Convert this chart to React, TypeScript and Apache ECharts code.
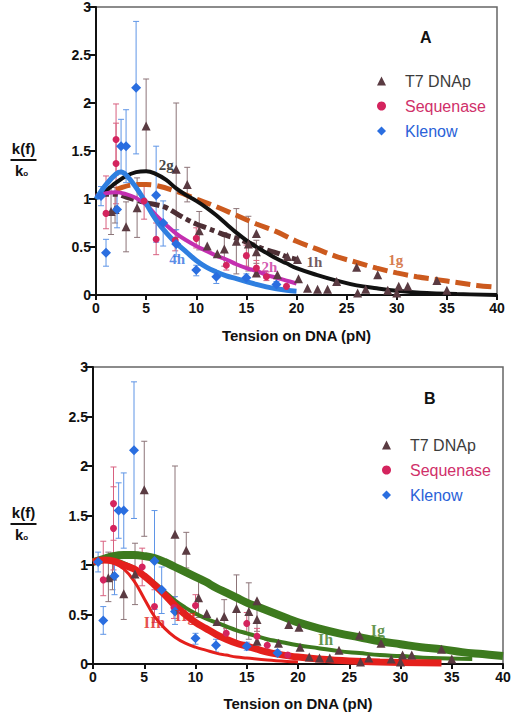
import React, { useEffect, useRef } from "react";
import * as echarts from "echarts";

// ---------- data ----------
type Pt = [number, number, number | null, number | null];

const T7_POINTS: Pt[] = [
  [1.5, 0.87, 0.63, 1.13], [1.9, 0.89, 0.75, 1.12], [3.0, 0.71, 0.45, 0.97], [4.1, 0.91, 0.6, 1.22],
  [5.0, 1.76, 1.29, 2.25], [8.0, 1.31, 0.6, 2.0], [9.1, 1.15, 0.97, 1.33], [10.3, 0.67, 0.47, 0.87],
  [11.1, 0.51, null, null], [12.1, 0.43, null, null], [12.8, 0.48, 0.3, 0.65], [14.0, 0.56, 0.22, 0.9],
  [15.2, 0.53, 0.25, 0.82], [16.0, 0.64, null, null], [16.0, 0.45, 0.33, 0.57], [16.0, 0.23, null, null],
  [18.1, 0.21, null, null], [19.1, 0.4, null, null], [20.1, 0.37, null, null], [20.2, 0.17, null, null],
  [21.1, 0.07, null, null], [22.1, 0.06, null, null], [23.1, 0.06, null, null], [24.0, 0.14, null, null],
  [26.0, 0.29, null, null], [26.1, 0.02, null, null], [26.9, 0.06, null, null], [28.1, 0.21, null, null],
  [29.1, 0.05, null, null], [30.0, 0.02, null, null], [30.2, 0.09, null, null], [31.1, 0.09, null, null],
  [34.0, 0.15, null, null], [35.0, 0.05, null, null],
];

const SEQUENASE_POINTS: Pt[] = [
  [1.0, 0.85, 0.69, 1.24], [2.0, 1.62, 1.25, 1.99], [2.0, 1.37, 0.95, 1.79], [4.8, 0.98, 0.79, 1.17],
  [6.0, 0.58, 0.42, 0.75], [7.9, 0.57, 0.46, 0.68], [10.0, 0.59, 0.49, 0.7], [13.0, 0.31, 0.26, 0.36],
  [15.0, 0.41, 0.3, 0.52], [16.0, 0.28, 0.2, 0.36], [17.0, 0.19, 0.15, 0.24], [19.0, 0.09, null, null],
];

const KLENOW_POINTS: Pt[] = [
  [0.5, 1.03, 0.93, 1.13], [1.0, 0.44, 0.3, 0.58], [2.1, 0.89, 0.7, 1.08], [2.5, 1.55, 1.27, 1.83],
  [3.0, 1.55, 1.17, 1.93], [4.0, 2.16, 1.47, 2.85], [6.0, 1.04, 0.55, 1.55], [6.7, 0.75, 0.51, 0.98],
  [8.0, 0.53, 0.4, 0.68], [10.0, 0.26, 0.2, 0.31], [12.0, 0.19, 0.12, 0.25], [15.0, 0.18, 0.14, 0.22],
  [18.0, 0.11, 0.08, 0.14],
];

// Panel A model curves
const CURVE_1G: [number, number][] = [
  [0, 1.03], [2, 1.1], [4, 1.15], [5, 1.15], [6, 1.14], [8, 1.08], [10, 1.0], [12, 0.92], [14, 0.83],
  [16, 0.74], [18, 0.66], [20, 0.56], [22, 0.48], [24, 0.4], [26, 0.34], [28, 0.28], [30, 0.23],
  [32, 0.19], [34, 0.16], [36, 0.13], [38, 0.1], [40, 0.08],
];
const CURVE_1H: [number, number][] = [
  [0, 1.03], [1, 1.05], [2, 1.05], [3, 1.02], [4, 0.99], [5, 0.96], [6, 0.94], [7, 0.91], [8, 0.85],
  [9, 0.79], [10, 0.74], [11, 0.7], [12, 0.66], [13, 0.62], [14, 0.59], [15, 0.55], [16, 0.51],
  [17, 0.47], [18, 0.44], [19, 0.4], [20, 0.37],
];
const CURVE_2G: [number, number][] = [
  [0, 1.03], [1, 1.09], [2, 1.17], [3, 1.24], [4, 1.28], [5, 1.29], [6, 1.26], [7, 1.2], [8, 1.11],
  [9, 1.04], [10, 0.98], [11, 0.91], [12, 0.83], [13, 0.74], [14, 0.65], [15, 0.57], [16, 0.5],
  [17, 0.44], [18, 0.38], [19, 0.33], [20, 0.28], [22, 0.21], [24, 0.15], [26, 0.1], [28, 0.07],
  [30, 0.045], [33, 0.02], [36, 0.01], [40, 0.0],
];
const CURVE_2H: [number, number][] = [
  [0, 1.03], [1, 1.06], [2, 1.07], [3, 1.05], [4, 1.01], [5, 0.94], [6, 0.83], [7, 0.73], [8, 0.64],
  [9, 0.57], [10, 0.51], [11, 0.46], [12, 0.41], [13, 0.37], [14, 0.32], [15, 0.28], [16, 0.25],
  [17, 0.21], [18, 0.18], [19, 0.15], [20, 0.12],
];
const CURVE_4H: [number, number][] = [
  [0, 1.0], [1, 1.15], [2, 1.26], [2.5, 1.28], [3, 1.25], [4, 1.12], [4.8, 0.99], [6, 0.78], [7, 0.65],
  [8, 0.54], [9, 0.45], [10, 0.36], [11, 0.29], [12, 0.24], [13, 0.2], [14, 0.17], [15, 0.14],
  [16, 0.11], [17, 0.085], [18, 0.065], [19, 0.05], [20, 0.04],
];

// Panel B model curves
const CURVE_IG: [number, number][] = [
  [0, 1.03], [1, 1.06], [2, 1.09], [3, 1.1], [4, 1.1], [5, 1.09], [6, 1.07], [7, 1.03], [8, 0.98],
  [9, 0.93], [10, 0.88], [11, 0.83], [12, 0.77], [13, 0.72], [14, 0.67], [15, 0.62], [16, 0.58],
  [17, 0.54], [18, 0.5], [19, 0.46], [20, 0.42], [22, 0.36], [24, 0.31], [26, 0.27], [28, 0.23],
  [30, 0.2], [32, 0.17], [34, 0.15], [36, 0.12], [38, 0.1], [40, 0.08],
];
const CURVE_IH: [number, number][] = [
  [0, 1.03], [1, 1.05], [2, 1.05], [3, 1.02], [4, 0.97], [5, 0.9], [6, 0.82], [7, 0.73], [8, 0.64],
  [9, 0.57], [10, 0.51], [11, 0.46], [12, 0.42], [13, 0.38], [14, 0.34], [15, 0.31], [16, 0.28],
  [17, 0.25], [18, 0.23], [20, 0.19], [22, 0.16], [24, 0.13], [26, 0.11], [28, 0.09], [30, 0.08],
  [33, 0.06], [37, 0.05],
];
const CURVE_IIG: [number, number][] = [
  [0, 1.03], [1, 1.05], [2, 1.04], [3, 1.0], [4, 0.96], [5, 0.89], [6, 0.8], [7, 0.7], [8, 0.59],
  [9, 0.5], [10, 0.42], [11, 0.36], [12, 0.3], [13, 0.25], [14, 0.21], [15, 0.18], [16, 0.15],
  [17, 0.12], [18, 0.1], [20, 0.07], [22, 0.05], [25, 0.03], [28, 0.02], [34, 0.01],
];
const CURVE_IIH: [number, number][] = [
  [0, 1.03], [1, 1.04], [2, 1.02], [3, 0.96], [4, 0.84], [5, 0.66], [6, 0.48], [7, 0.36], [8, 0.27],
  [9, 0.21], [10, 0.17], [11, 0.14], [12, 0.11], [13, 0.09], [14, 0.07], [15, 0.06], [17, 0.04],
  [20, 0.02],
];

// curve label anchors (data coordinates)
const LABELS_A: { text: string; at: [number, number]; color: string }[] = [
  { text: "2g", at: [7.0, 1.35], color: "#111111" },
  { text: "4h", at: [8.1, 0.38], color: "#2f6fe0" },
  { text: "2h", at: [17.3, 0.29], color: "#c8309e" },
  { text: "1h", at: [21.8, 0.34], color: "#4d2f35" },
  { text: "1g", at: [29.9, 0.36], color: "#cc5a1e" },
];
const LABELS_B: { text: string; at: [number, number]; color: string }[] = [
  { text: "IIh", at: [6.0, 0.42], color: "#e02020" },
  { text: "IIg", at: [9.0, 0.49], color: "#e02020" },
  { text: "Ih", at: [22.7, 0.25], color: "#3d7a1e" },
  { text: "Ig", at: [27.8, 0.34], color: "#3d7a1e" },
];

const X_MIN = 0, X_MAX = 40, X_STEP = 5;
const Y_MIN = 0, Y_MAX = 3, Y_STEP = 0.5;
const X_TITLE = "Tension on DNA (pN)";
const LEGEND_NAMES = ["T7 DNAp", "Sequenase", "Klenow"];

// ---------- styling ----------
const C_T7 = "#5a3b42";
const C_SEQ = "#d4245e";
const C_KLE = "#2a6ee0";
const C_T7_ERR = "#8c7478";
const C_SEQ_ERR = "#d8607f";
const C_KLE_ERR = "#5f95e6";

const SANS = "'Liberation Sans', Arial, Helvetica, sans-serif";
const SERIF = "'Liberation Serif', 'Times New Roman', serif";

function errorSeries(points: Pt[], color: string, idx: number) {
  return {
    type: "custom",
    xAxisIndex: idx,
    yAxisIndex: idx,
    silent: true,
    z: 2,
    data: points.filter((p) => p[2] !== null).map((p) => [p[0], p[2], p[3]]),
    encode: { x: 0, y: [1, 2] },
    renderItem: (_params: any, api: any) => {
      const x = api.value(0);
      const lo = api.coord([x, api.value(1)]);
      const hi = api.coord([x, api.value(2)]);
      const w = 3;
      const style = { stroke: color, lineWidth: 1 };
      return {
        type: "group",
        children: [
          { type: "line", shape: { x1: lo[0], y1: lo[1], x2: hi[0], y2: hi[1] }, style },
          { type: "line", shape: { x1: lo[0] - w, y1: lo[1], x2: lo[0] + w, y2: lo[1] }, style },
          { type: "line", shape: { x1: hi[0] - w, y1: hi[1], x2: hi[0] + w, y2: hi[1] }, style },
        ],
      };
    },
  };
}

function scatterSeries(name: string, points: Pt[], symbol: string, size: number, color: string, idx: number) {
  return {
    type: "scatter",
    name,
    xAxisIndex: idx,
    yAxisIndex: idx,
    symbol,
    symbolSize: size,
    itemStyle: { color, opacity: 1 },
    z: 5,
    data: points.map((p) => [p[0], p[1]]),
  };
}

function curveSeries(data: [number, number][], color: string, width: number, idx: number, type: any = "solid") {
  return {
    type: "line",
    xAxisIndex: idx,
    yAxisIndex: idx,
    data,
    smooth: 0.4,
    showSymbol: false,
    silent: true,
    z: 3,
    lineStyle: { color, width, type, cap: "butt" },
  };
}

function labelSeries(labels: typeof LABELS_A, idx: number, size: number) {
  return {
    type: "scatter",
    xAxisIndex: idx,
    yAxisIndex: idx,
    symbolSize: 0,
    silent: true,
    z: 6,
    data: labels.map((l) => ({
      value: l.at,
      label: {
        show: true,
        position: "inside",
        formatter: l.text,
        color: l.color,
        fontFamily: SERIF,
        fontWeight: "bold",
        fontSize: size,
      },
    })),
  };
}

function xAxis(idx: number, gap: number) {
  return {
    type: "value",
    gridIndex: idx,
    min: X_MIN,
    max: X_MAX,
    interval: X_STEP,
    name: X_TITLE,
    nameLocation: "middle",
    nameGap: gap,
    nameTextStyle: { fontFamily: SANS, fontWeight: "bold", fontSize: 15, color: "#111" },
    axisLine: { lineStyle: { color: "#111", width: 2 } },
    axisTick: { show: true, length: 5, lineStyle: { color: "#111", width: 2 } },
    axisLabel: { fontFamily: SANS, fontWeight: "bold", fontSize: 14, color: "#111", margin: 6 },
    splitLine: { show: false },
  };
}

function yAxis(idx: number) {
  return {
    type: "value",
    gridIndex: idx,
    min: Y_MIN,
    max: Y_MAX,
    interval: Y_STEP,
    axisLine: { show: true, lineStyle: { color: "#111", width: 2 } },
    axisTick: { show: true, length: 7, lineStyle: { color: "#111", width: 2 } },
    axisLabel: { fontFamily: SANS, fontWeight: "bold", fontSize: 14, color: "#111", margin: 5 },
    splitLine: { show: false },
  };
}

function legend(left: number, top: number) {
  return {
    orient: "vertical",
    left,
    top,
    itemWidth: 9,
    itemHeight: 9,
    itemGap: 9,
    selectedMode: false,
    textStyle: { fontFamily: SANS, fontSize: 16, padding: [0, 0, 0, 14] },
    data: [
      { name: LEGEND_NAMES[0], textStyle: { color: "#3c3c3c" } },
      { name: LEGEND_NAMES[1], textStyle: { color: "#d0306a" } },
      { name: LEGEND_NAMES[2], textStyle: { color: "#2a62d8" } },
    ],
  };
}

function yLabel(top: number) {
  return {
    type: "group",
    left: 8,
    top,
    children: [
      {
        type: "text",
        x: 13,
        y: 0,
        style: { text: "k(f)", font: `bold 15px ${SANS}`, fill: "#111", align: "center", verticalAlign: "top" },
      },
      { type: "line", shape: { x1: 0, y1: 19, x2: 26, y2: 19 }, style: { stroke: "#111", lineWidth: 2 } },
      {
        type: "text",
        x: 11,
        y: 22,
        style: {
          text: "k{s|o}",
          font: `bold 15px ${SANS}`,
          fill: "#111",
          align: "center",
          verticalAlign: "top",
          rich: { s: { fontSize: 8, fontWeight: "bold", fontFamily: SANS, fill: "#111", padding: [5, 0, 0, 0] } },
        },
      },
    ],
  };
}

export default function App() {
  const ref = useRef<HTMLDivElement>(null);
  useEffect(() => {
    document.body.style.margin = "0";
    if (!ref.current) return;
    const chart = echarts.init(ref.current, undefined, { renderer: "svg" });
    const series: any[] = [];
    for (const idx of [0, 1]) {
      series.push(errorSeries(T7_POINTS, C_T7_ERR, idx));
      series.push(errorSeries(SEQUENASE_POINTS, C_SEQ_ERR, idx));
      series.push(errorSeries(KLENOW_POINTS, C_KLE_ERR, idx));
    }
    // panel A curves
    series.push(curveSeries(CURVE_1G, "#cc5a1e", 5, 0, [15, 6]));
    series.push(curveSeries(CURVE_1H, "#4d2f35", 5, 0, [13, 4, 5, 4]));
    series.push(curveSeries(CURVE_2G, "#111111", 4, 0));
    series.push(curveSeries(CURVE_2H, "#c42fb0", 4, 0));
    series.push(curveSeries(CURVE_4H, "#2f7fe0", 5, 0));
    // panel B curves
    series.push(curveSeries(CURVE_IG, "#3d7a1e", 8, 1));
    series.push(curveSeries(CURVE_IH, "#3d7a1e", 4, 1));
    series.push(curveSeries(CURVE_IIG, "#e4201c", 7, 1));
    series.push(curveSeries(CURVE_IIH, "#e4201c", 3, 1));
    for (const idx of [0, 1]) {
      series.push(scatterSeries(LEGEND_NAMES[0], T7_POINTS, "triangle", 9, C_T7, idx));
      series.push(scatterSeries(LEGEND_NAMES[1], SEQUENASE_POINTS, "circle", 7, C_SEQ, idx));
      series.push(scatterSeries(LEGEND_NAMES[2], KLENOW_POINTS, "diamond", 10, C_KLE, idx));
    }
    series.push(labelSeries(LABELS_A, 0, 15));
    series.push(labelSeries(LABELS_B, 1, 16));

    chart.setOption({
      animation: false,
      backgroundColor: "#ffffff",
      title: [
        { text: "A", left: 415, top: 24, textStyle: { fontFamily: SANS, fontWeight: "bold", fontSize: 16, color: "#111" } },
        { text: "B", left: 419, top: 385, textStyle: { fontFamily: SANS, fontWeight: "bold", fontSize: 16, color: "#111" } },
      ],
      legend: [legend(372, 68), legend(377, 432)],
      grid: [
        { left: 96, right: 17, top: 6, height: 289, show: true, borderColor: "#666", borderWidth: 1.5, backgroundColor: "transparent" },
        { left: 93, right: 11, top: 367, height: 297, show: true, borderColor: "#666", borderWidth: 1.5, backgroundColor: "transparent" },
      ],
      xAxis: [xAxis(0, 33), xAxis(1, 32)],
      yAxis: [yAxis(0), yAxis(1)],
      graphic: [yLabel(141), yLabel(505)],
      series,
    });
    return () => chart.dispose();
  }, []);
  return <div ref={ref} style={{ width: 514, height: 720 }} />;
}
